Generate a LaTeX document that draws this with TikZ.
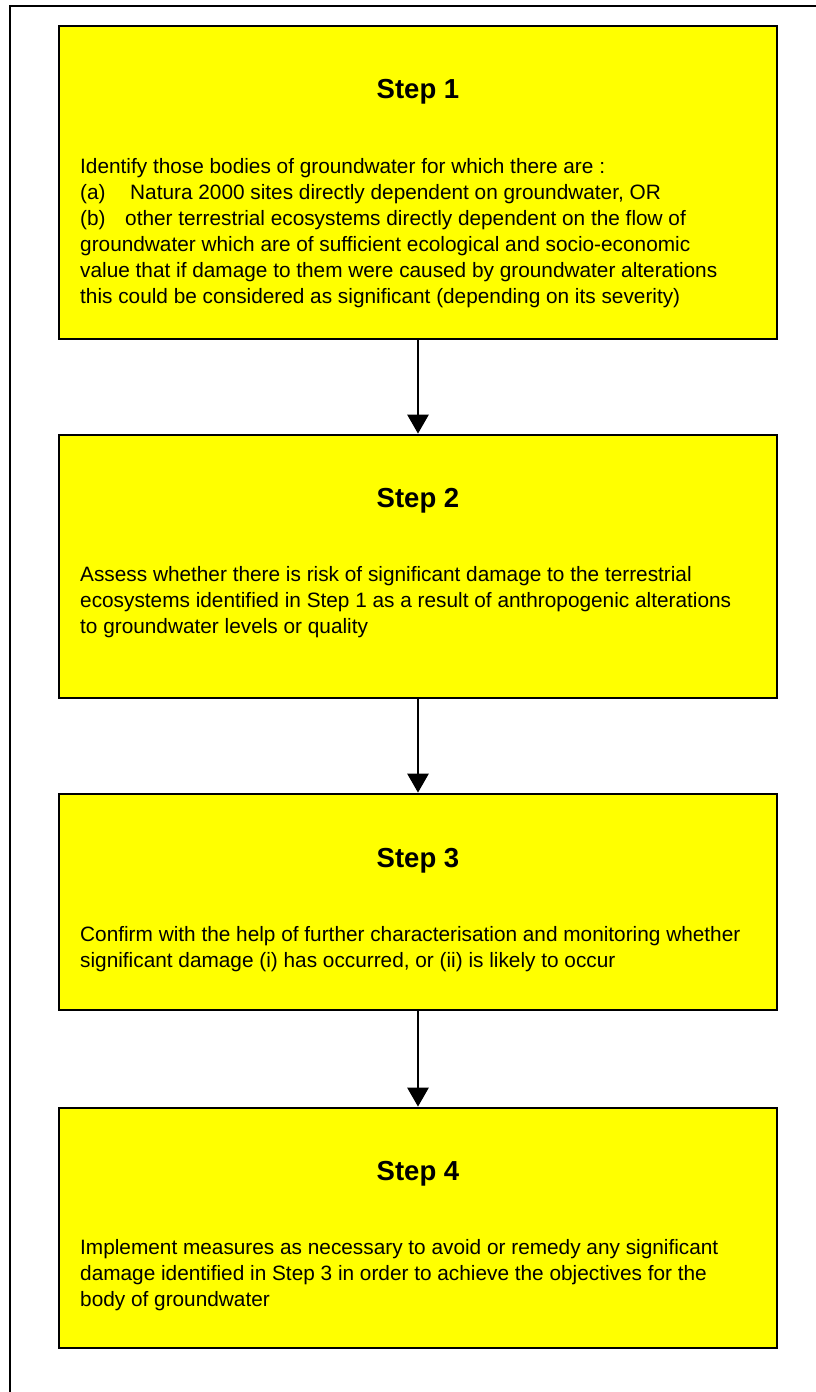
\documentclass[tikz,border=0pt]{standalone}
\usepackage{fontspec}
\setmainfont{Liberation Sans}
\usetikzlibrary{arrows.meta}
\definecolor{boxyellow}{RGB}{255,255,0}
\newcommand\myBodyFont{\fontsize{20.8}{26}\selectfont}
\newcommand\myTitleFont{\fontsize{27.5}{33}\selectfont\bfseries}
\tikzset{
  stepbox/.style={draw=black, line width=2.7pt, fill=boxyellow, rectangle, inner sep=0pt, minimum width=718pt},
  steptitle/.style={anchor=base, inner sep=0pt, font=\myTitleFont},
  stepbody/.style={anchor=base west, inner sep=0pt},
  flowarrow/.style={line width=2.7pt, -{Triangle[width=21pt,length=19pt]}},
}
\begin{document}
\begin{tikzpicture}[x=1pt,y=-1pt]
\useasboundingbox (0,0) rectangle (816,1392);
\draw[line width=2.7pt] (10,1400) -- (10,6) -- (830,6);
% boxes
\node[stepbox, minimum height=313pt] (b1) at (418,182.5) {};
\node[stepbox, minimum height=263pt] (b2) at (418,566.5) {};
\node[stepbox, minimum height=216pt] (b3) at (418,902) {};
\node[stepbox, minimum height=240pt] (b4) at (418,1228) {};
% titles
\node[steptitle] (t1) at (418,98) {Step 1};
\node[steptitle] (t2) at (418,507) {Step 2};
\node[steptitle] (t3) at (418,867) {Step 3};
\node[steptitle] (t4) at (418,1180) {Step 4};
% bodies
\node[stepbody] (d1) at (80,173) {\vtop{\myBodyFont
  \hbox{Identify those bodies of groundwater for which there are :}
  \hbox{\makebox[50pt][l]{(a)}Natura 2000 sites directly dependent on groundwater, OR}
  \hbox{\makebox[45pt][l]{(b)}other terrestrial ecosystems directly dependent on the flow of}
  \hbox{groundwater which are of sufficient ecological and socio-economic}
  \hbox{value that if damage to them were caused by groundwater alterations}
  \hbox{this could be considered as significant (depending on its severity)}}};
\node[stepbody] (d2) at (80,581) {\vtop{\myBodyFont
  \hbox{Assess whether there is risk of significant damage to the terrestrial}
  \hbox{ecosystems identified in Step 1 as a result of anthropogenic alterations}
  \hbox{to groundwater levels or quality}}};
\node[stepbody] (d3) at (80,941) {\vtop{\myBodyFont
  \hbox{Confirm with the help of further characterisation and monitoring whether}
  \hbox{significant damage (i) has occurred, or (ii) is likely to occur}}};
\node[stepbody] (d4) at (80,1254) {\vtop{\myBodyFont
  \hbox{Implement measures as necessary to avoid or remedy any significant}
  \hbox{damage identified in Step 3 in order to achieve the objectives for the}
  \hbox{body of groundwater}}};
% arrows
\draw[flowarrow] (b1.south) -- (b2.north);
\draw[flowarrow] (b2.south) -- (b3.north);
\draw[flowarrow] (b3.south) -- (b4.north);
\end{tikzpicture}
\end{document}
